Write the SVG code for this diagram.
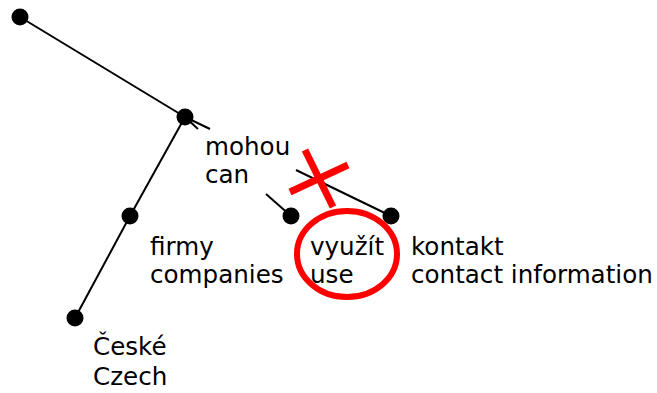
<svg xmlns="http://www.w3.org/2000/svg" width="657" height="393" viewBox="0 0 657 393">
  <style>
    .edge { stroke: #000; stroke-width: 2; fill: none; }
    .dot { fill: #000; }
    .lbl { font-family: "DejaVu Sans", Verdana, sans-serif; font-size: 24.6px; fill: #000; }
    .mark { stroke: #f00; fill: none; }
  </style>
  <rect width="657" height="393" fill="#fff"/>
  <g id="connectors">
    <line class="edge" x1="20" y1="17" x2="185" y2="117"/>
    <line class="edge" x1="185" y1="117" x2="130" y2="216"/>
    <line class="edge" x1="130" y1="216" x2="75" y2="318"/>
    <line class="edge" x1="185" y1="117" x2="198" y2="129"/>
    <line class="edge" x1="185" y1="117" x2="210" y2="129"/>
    <line class="edge" x1="266" y1="194" x2="291" y2="216"/>
    <line class="edge" x1="296" y1="170" x2="391" y2="216"/>
  </g>
  <g id="n-root"><circle class="dot" cx="20" cy="17" r="8.5"/></g>
  <g id="n-mohou">
    <circle class="dot" cx="185" cy="117" r="8.5"/>
    <text class="lbl" x="205" y="155">mohou</text>
    <text class="lbl" x="205" y="183">can</text>
  </g>
  <g id="n-firmy">
    <circle class="dot" cx="130" cy="216" r="8.5"/>
    <text class="lbl" x="150" y="255">firmy</text>
    <text class="lbl" x="150" y="283">companies</text>
  </g>
  <g id="n-ceske">
    <circle class="dot" cx="75" cy="318" r="8.5"/>
    <text class="lbl" x="93" y="355">České</text>
    <text class="lbl" x="93" y="385">Czech</text>
  </g>
  <g id="n-vyuzit">
    <circle class="dot" cx="291" cy="216" r="8.5"/>
    <text class="lbl" x="310" y="255">využít</text>
    <text class="lbl" x="310" y="283">use</text>
  </g>
  <g id="n-kontakt">
    <circle class="dot" cx="391" cy="216" r="8.5"/>
    <text class="lbl" x="411" y="255">kontakt</text>
    <text class="lbl" x="411" y="283">contact information</text>
  </g>
  <g id="cross-out">
    <line class="mark" stroke-width="7" x1="305" y1="150" x2="333" y2="207"/>
    <line class="mark" stroke-width="7" x1="290" y1="192" x2="348" y2="165"/>
    <ellipse class="mark" stroke-width="6" cx="347" cy="254" rx="50" ry="43"/>
  </g>
</svg>
